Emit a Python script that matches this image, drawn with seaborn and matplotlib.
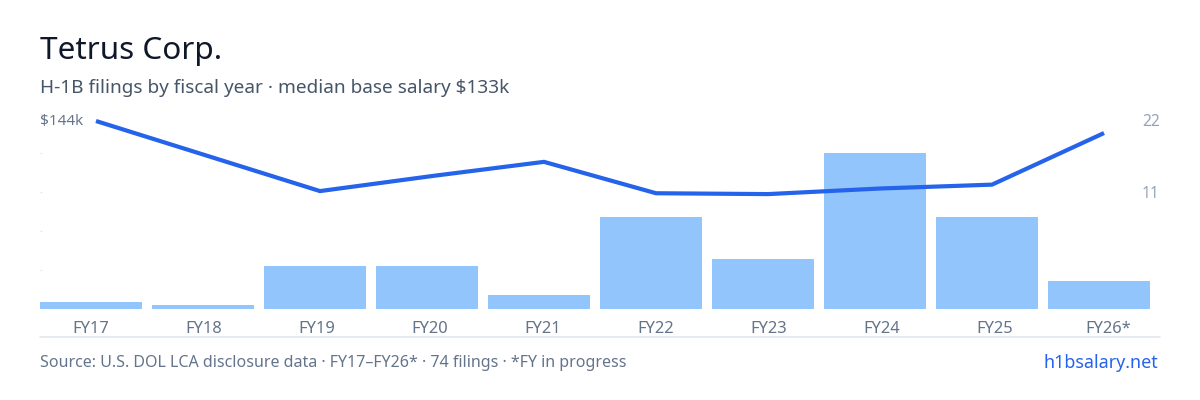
"""Tetrus Corp. H-1B filings per fiscal year with median salary line."""
import matplotlib.pyplot as plt
import numpy as np
import pandas as pd
import seaborn as sns
from matplotlib.lines import Line2D

W, H = 1200, 400

years = ["FY17", "FY18", "FY19", "FY20", "FY21", "FY22", "FY23", "FY24", "FY25", "FY26*"]
filings = [1, 0.55, 6, 6, 2, 13, 7, 22, 13, 4]
salary_k = [144, np.nan, 127.7, 131.2, 134.5, 127.2, 127.0, 128.3, 129.2, 141.2]
count_ticks = [5.5, 11, 16.5, 22, 27.5]

TITLE = "#0f172a"
SUB = "#475569"
MUTED = "#64748b"
FAINT = "#94a3b8"
RULE = "#e2e8f0"
BAR = "#93c5fd"
LINE = "#2563eb"

sns.set_theme(style="white")
plt.rcParams["font.family"] = ["Noto Sans", "DejaVu Sans"]


def fx(px):
    return px / W


def fy(px):
    return 1 - px / H


df = pd.DataFrame({"year": years, "filings": filings, "salary": salary_k})

fig = plt.figure(figsize=(12, 4), dpi=100, facecolor="white")
ax = fig.add_axes([fx(40), fy(309), fx(1120), (309 - 113) / H])

sns.barplot(data=df, x="year", y="filings", color=BAR, saturation=1, width=102 / 112,
            linewidth=0, ax=ax)
# bars sit flush left in their 112px slot, the line stays on the slot centre
for p in ax.patches:
    p.set_x(p.get_x() - 5 / 112)
ax.set_xlim(-0.5, 9.5)
ax.set_ylim(0, 27.6)
ax.set_yticks(count_ticks)
ax.set_yticklabels([])
ax.tick_params(axis="y", direction="in", length=1.5, width=0.8, color=RULE, left=True)
# the labels run on a slightly wider 113px step than the bars
ax.set_xticks([i * 113 / 112 - 5 / 112 for i in range(len(years))])
ax.set_xticklabels(years)
ax.tick_params(axis="x", length=0, pad=8.7, labelsize=11.9, labelcolor=MUTED)
ax.set_xlabel("")
ax.set_ylabel("")
sns.despine(ax=ax, left=True, bottom=True)

ax2 = ax.twinx()
sns.lineplot(data=df, x="year", y="salary", color=LINE, linewidth=3.0, sort=False,
             errorbar=None, solid_capstyle="butt", ax=ax2)
# 4.3 px per $1k, with $144k sitting at y=121
ax2.set_ylim(144 - (309 - 121) / 4.3, 144 + (121 - 113) / 4.3)
ax2.set_yticks([])
ax2.set_xlim(-0.5, 9.5)
ax2.set_xlabel("")
ax2.set_ylabel("")
sns.despine(ax=ax2, left=True, bottom=True, right=True)

fig.text(fx(40), fy(51), "Tetrus Corp.", fontsize=22.7, color=TITLE, va="center", ha="left")
fig.text(fx(40), fy(88), "H-1B filings by fiscal year · median base salary $133k",
         fontsize=13.68, color=SUB, va="center", ha="left")
fig.text(fx(40), fy(121), "$144k", fontsize=11, color=MUTED, va="center", ha="left")
fig.text(fx(1142), fy(121.5), "22", fontsize=11.2, color=FAINT, va="center", ha="left")
fig.text(fx(1142), fy(193.5), "11", fontsize=11.2, color=FAINT, va="center", ha="left")

fig.add_artist(Line2D([fx(40), fx(1160)], [fy(336.5), fy(336.5)], color=RULE, linewidth=1.2))

fig.text(fx(40), fy(363), "Source: U.S. DOL LCA disclosure data · FY17–FY26* · 74 filings · *FY in progress",
         fontsize=11.52, color=MUTED, va="center", ha="left")
fig.text(fx(1158), fy(363), "h1bsalary.net", fontsize=12.9, color=LINE, va="center", ha="right")

fig.savefig("out.png", dpi=100)
